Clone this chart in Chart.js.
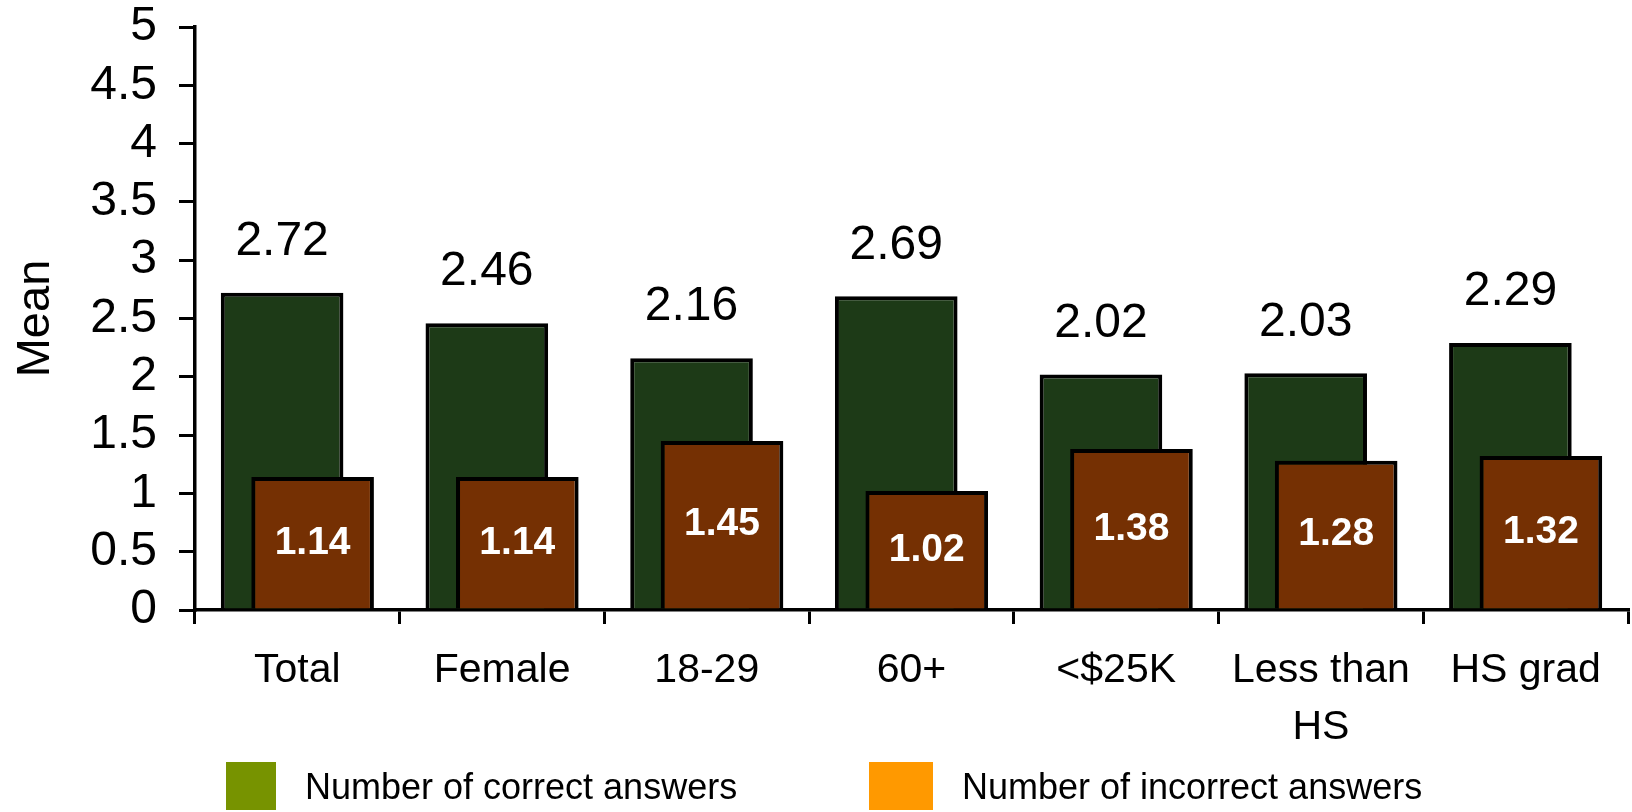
<!DOCTYPE html>
<html>
<head>
<meta charset="utf-8">
<script src="https://cdn.jsdelivr.net/npm/chart.js@4/dist/chart.umd.min.js"></script>
<style>
  html, body { margin: 0; padding: 0; background: #fff; }
  canvas { display: block; }
</style>
</head>
<body>
<canvas id="chart" width="1632" height="812"></canvas>
<script>
// Data
const categories = ["Total", "Female", "18-29", "60+", "<$25K", ["Less than", "HS"], "HS grad"];
const correctAnswers = [2.72, 2.46, 2.16, 2.69, 2.02, 2.03, 2.29];
const incorrectAnswers = [1.14, 1.14, 1.45, 1.02, 1.38, 1.28, 1.32];
const seriesNames = ["Number of correct answers", "Number of incorrect answers"];

// Colours
const barColors = ["#1d3a17", "#753003"];
const legendColors = ["#779300", "#ff9900"];
const fontFamily = "'Liberation Sans', Arial, sans-serif";

// Brown bars go on top of the green ones, then the value labels
const overlapBars = {
    id: "overlapBars",
    beforeDatasetDraw(chart, args) {
        if (args.index === 1) return false;
    },
    afterDatasetsDraw(chart) {
        const ctx = chart.ctx;
        chart.getDatasetMeta(1).controller.draw();

        ctx.save();
        ctx.textAlign = "center";
        ctx.textBaseline = "middle";
        chart.data.datasets.forEach((ds, di) => {
            const meta = chart.getDatasetMeta(di);
            meta.data.forEach((bar, i) => {
                const v = ds.data[i];
                if (di === 0) {
                    ctx.font = "48px " + fontFamily;
                    ctx.fillStyle = "#000";
                    ctx.fillText(v.toFixed(2), bar.x, bar.y - 51);
                } else {
                    ctx.font = "bold 39px " + fontFamily;
                    ctx.fillStyle = "#fff";
                    ctx.fillText(v.toFixed(2), bar.x, (bar.y + bar.base) / 2);
                }
            });
        });
        ctx.restore();
    }
};

// Legend along the bottom, square swatches
const bottomLegend = {
    id: "bottomLegend",
    afterDraw(chart) {
        const ctx = chart.ctx;
        const boxLeft = [226, 869];
        const boxWidth = [50, 64];
        const textLeft = [305, 962];
        const boxTop = 762, boxH = 48;
        ctx.save();
        ctx.font = "36px " + fontFamily;
        ctx.textAlign = "left";
        ctx.textBaseline = "middle";
        seriesNames.forEach((name, i) => {
            ctx.fillStyle = legendColors[i];
            ctx.fillRect(boxLeft[i], boxTop, boxWidth[i], boxH);
            ctx.fillStyle = "#000";
            ctx.fillText(name, textLeft[i], boxTop + 27);
        });
        ctx.restore();
    }
};

new Chart(document.getElementById("chart"), {
    type: "bar",
    data: {
        labels: categories,
        datasets: [
            {
                label: seriesNames[0],
                data: correctAnswers,
                backgroundColor: barColors[0],
                borderColor: "#000",
                borderWidth: 4,
                categoryPercentage: 0.298,
                barPercentage: 4.02,
            },
            {
                label: seriesNames[1],
                data: incorrectAnswers,
                backgroundColor: barColors[1],
                borderColor: "#000",
                borderWidth: 4,
                categoryPercentage: 0.298,
                barPercentage: 4.02,
            },
        ],
    },
    options: {
        responsive: false,
        animation: false,
        devicePixelRatio: 1,
        layout: {
            padding: { top: 27, right: 4, left: 0, bottom: 52 },
        },
        scales: {
            x: {
                afterFit: function (scale) {
                    scale.height = 150;
                },
                grid: {
                    offset: true,
                    drawOnChartArea: false,
                    drawTicks: true,
                    tickLength: 14,
                    color: "#000",
                    lineWidth: 3,
                },
                border: { display: true, color: "#000", width: 3.5 },
                ticks: {
                    color: "#000",
                    padding: 18,
                    maxRotation: 0,
                    autoSkip: false,
                    font: { family: fontFamily, size: 41, lineHeight: 1.4 },
                },
            },
            y: {
                min: 0,
                max: 5,
                afterFit: function (scale) {
                    scale.width = 195;
                    scale.paddingTop = 0;
                    scale.paddingBottom = 0;
                },
                grid: {
                    drawOnChartArea: false,
                    drawTicks: true,
                    tickLength: 16,
                    color: "#000",
                    lineWidth: 3,
                },
                border: { display: true, color: "#000", width: 3.5 },
                ticks: {
                    stepSize: 0.5,
                    autoSkip: false,
                    color: "#000",
                    padding: 22,
                    font: { family: fontFamily, size: 48 },
                    callback: (v) => String(Math.round(v * 10) / 10),
                },
                title: {
                    display: true,
                    text: "Mean",
                    color: "#000",
                    padding: { top: 8, bottom: 0 },
                    font: { family: fontFamily, size: 47 },
                },
            },
        },
        plugins: {
            tooltip: { enabled: false },
            legend: { display: false },
        },
    },
    plugins: [overlapBars, bottomLegend],
});
</script>
</body>
</html>
